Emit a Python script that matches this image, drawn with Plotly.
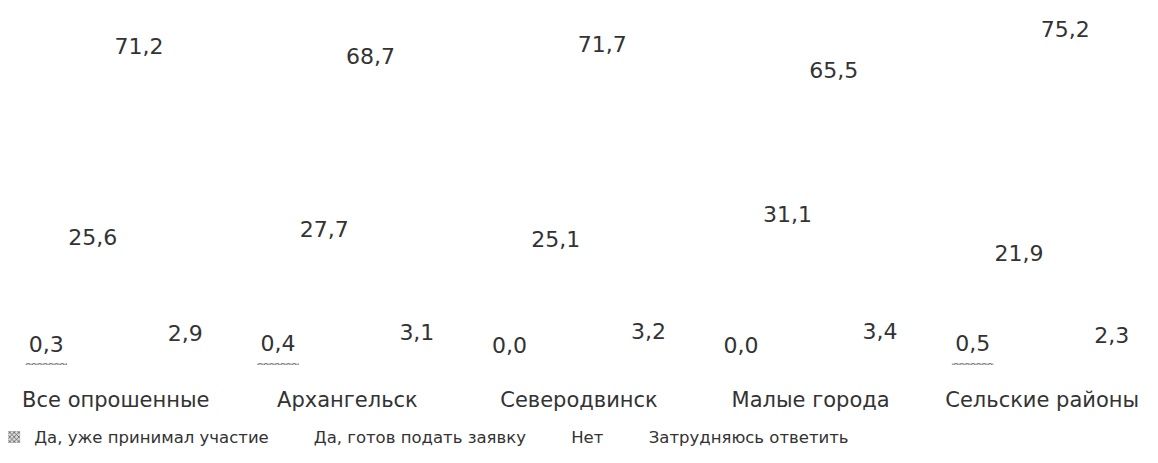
import plotly.graph_objects as go

# Survey results by territory, % of respondents
categories = ["Все опрошенные", "Архангельск", "Северодвинск", "Малые города", "Сельские районы"]
series_names = [
    "Да, уже принимал участие",
    "Да, готов подать заявку",
    "Нет",
    "Затрудняюсь ответить",
]
already_took_part = [0.3, 0.4, 0.0, 0.0, 0.5]
ready_to_apply = [25.6, 27.7, 25.1, 31.1, 21.9]
no = [71.2, 68.7, 71.7, 65.5, 75.2]
hard_to_say = [2.9, 3.1, 3.2, 3.4, 2.3]

series_values = [already_took_part, ready_to_apply, no, hard_to_say]

FONT = "DejaVu Sans"
TEXT_COLOR = "#333333"

bar_markers = [
    dict(color="#d9d9d9", line=dict(width=0),
         pattern=dict(shape="x", fgcolor="#555555", bgcolor="#d9d9d9", size=4, solidity=0.4)),
    dict(color="#ffffff", line=dict(width=0)),
    dict(color="#ffffff", line=dict(width=0)),
    dict(color="#ffffff", line=dict(width=0)),
]

fig = go.Figure()

for i, (name, vals) in enumerate(zip(series_names, series_values)):
    fig.add_trace(go.Bar(
        x=categories, y=vals, name=name,
        marker=bar_markers[i],
        offsetgroup=str(i),
        hoverinfo="skip",
    ))

# Value labels, grouped alongside the bars
for i, (name, vals) in enumerate(zip(series_names, series_values)):
    fig.add_trace(go.Scatter(
        x=categories, y=vals,
        mode="markers+text",
        marker=dict(size=9, color="rgba(0,0,0,0)"),
        text=[f"{v:.1f}".replace(".", ",") for v in vals],
        textposition="top center",
        textfont=dict(family=FONT, size=22, color=TEXT_COLOR),
        offsetgroup=str(i),
        showlegend=False,
        cliponaxis=False,
        hoverinfo="skip",
    ))

fig.update_layout(
    template="none",
    width=1158, height=463,
    margin=dict(l=0, r=0, t=29, b=98, autoexpand=False),
    paper_bgcolor="white", plot_bgcolor="white",
    barmode="group", bargap=0.2, bargroupgap=0.1,
    scattermode="group", scattergap=0.2,
    font=dict(family=FONT, size=20, color=TEXT_COLOR),
    showlegend=True,
    legend=dict(
        orientation="h", x=-0.005, xanchor="left", y=-0.215, yanchor="middle",
        font=dict(family=FONT, size=16.5, color=TEXT_COLOR),
        itemwidth=30, traceorder="normal", bgcolor="rgba(0,0,0,0)",
    ),
    xaxis=dict(showgrid=False, showline=False, zeroline=False, ticks="",
               ticklabelstandoff=20, automargin=False,
               tickfont=dict(family=FONT, size=21, color=TEXT_COLOR)),
    yaxis=dict(visible=False, range=[0, 80], showgrid=False, zeroline=False,
               automargin=False),
)

fig.write_html("out.html")
